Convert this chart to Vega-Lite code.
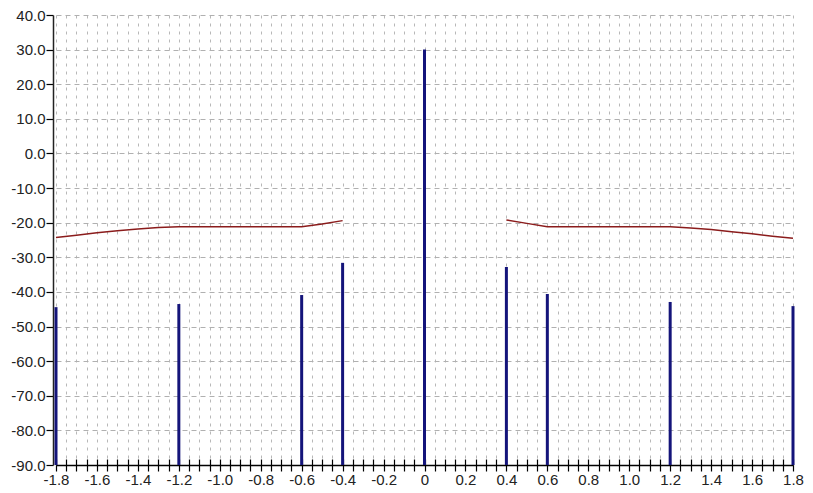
{
  "$schema": "https://vega.github.io/schema/vega-lite/v6.json",
  "width": 737,
  "height": 450,
  "autosize": {"type": "none"},
  "padding": {"left": 56, "top": 15, "right": 20, "bottom": 28},
  "background": "white",
  "config": {
    "view": {"stroke": null},
    "font": "Liberation Sans",
    "axis": {
      "labelOverlap": false,
      "labelFlush": false,
      "labelBound": false,
      "labelSeparation": 0,
      "labelFontSize": 15,
      "labelColor": "#222222",
      "labelPadding": 1,
      "tickColor": "#000000",
      "tickWidth": 1.2,
      "title": null
    }
  },
  "datasets": {
    "stems": [
      {"x": -1.8, "value": -44.4},
      {"x": -1.2, "value": -43.5},
      {"x": -0.6, "value": -40.9},
      {"x": -0.4, "value": -31.6},
      {"x": 0, "value": 30.0},
      {"x": 0.4, "value": -32.8},
      {"x": 0.6, "value": -40.6},
      {"x": 1.2, "value": -42.9},
      {"x": 1.8, "value": -44.1}
    ],
    "curve": [
      {"side": "L", "x": -1.8, "y": -24.3},
      {"side": "L", "x": -1.7, "y": -23.6},
      {"side": "L", "x": -1.6, "y": -22.9},
      {"side": "L", "x": -1.5, "y": -22.3},
      {"side": "L", "x": -1.4, "y": -21.8},
      {"side": "L", "x": -1.3, "y": -21.4},
      {"side": "L", "x": -1.2, "y": -21.2},
      {"side": "L", "x": -1.0, "y": -21.2},
      {"side": "L", "x": -0.8, "y": -21.2},
      {"side": "L", "x": -0.6, "y": -21.2},
      {"side": "L", "x": -0.5, "y": -20.4},
      {"side": "L", "x": -0.4, "y": -19.4},
      {"side": "R", "x": 0.4, "y": -19.2},
      {"side": "R", "x": 0.5, "y": -20.2},
      {"side": "R", "x": 0.6, "y": -21.2},
      {"side": "R", "x": 0.8, "y": -21.2},
      {"side": "R", "x": 1.0, "y": -21.2},
      {"side": "R", "x": 1.2, "y": -21.2},
      {"side": "R", "x": 1.3, "y": -21.5},
      {"side": "R", "x": 1.4, "y": -22.0},
      {"side": "R", "x": 1.5, "y": -22.6},
      {"side": "R", "x": 1.6, "y": -23.2},
      {"side": "R", "x": 1.7, "y": -23.9},
      {"side": "R", "x": 1.8, "y": -24.5}
    ]
  },
  "resolve": {"axis": {"x": "independent", "y": "independent"}},
  "layer": [
    {
      "data": {"name": "stems"},
      "mark": {"type": "rule", "color": "#14147a", "strokeWidth": 3},
      "encoding": {
        "x": {
          "field": "x",
          "type": "quantitative",
          "scale": {"domain": [-1.8, 1.8], "nice": false, "zero": false},
          "axis": {
            "orient": "bottom",
            "values": [-1.8,-1.75,-1.7,-1.65,-1.6,-1.55,-1.5,-1.45,-1.4,-1.35,-1.3,-1.25,-1.2,-1.15,-1.1,-1.05,-1,-0.95,-0.9,-0.85,-0.8,-0.75,-0.7,-0.65,-0.6,-0.55,-0.5,-0.45,-0.4,-0.35,-0.3,-0.25,-0.2,-0.15,-0.1,-0.05,0,0.05,0.1,0.15,0.2,0.25,0.3,0.35,0.4,0.45,0.5,0.55,0.6,0.65,0.7,0.75,0.8,0.85,0.9,0.95,1,1.05,1.1,1.15,1.2,1.25,1.3,1.35,1.4,1.45,1.5,1.55,1.6,1.65,1.7,1.75,1.8],
            "labelExpr": "round(datum.value*100) % 20 == 0 ? (datum.value == 0 ? '0' : replace(format(datum.value, '.1f'), '−', '-')) : ''",
            "tickSize": 6,
            "domainColor": "#000000",
            "domainWidth": 1.5,
            "grid": true,
            "gridColor": "#b8b8b8",
            "gridDash": [3, 5],
            "gridWidth": 1
          }
        },
        "y": {
          "field": "value",
          "type": "quantitative",
          "scale": {"domain": [-90, 40], "nice": false, "zero": false},
          "axis": {
            "orient": "left",
            "values": [-90, -80, -70, -60, -50, -40, -30, -20, -10, 0, 10, 20, 30, 40],
            "labelExpr": "replace(format(datum.value, '.1f'), '−', '-')",
            "labelOverlap": false,
            "tickSize": 7,
            "domainColor": "#222222",
            "domainWidth": 1.5,
            "offset": 3,
            "grid": true,
            "gridColor": "#b0b0b0",
            "gridDash": [5, 4],
            "gridWidth": 1
          }
        },
        "y2": {"datum": -90}
      }
    },
    {
      "data": {"name": "curve"},
      "mark": {"type": "line", "color": "#8b1c1c", "strokeWidth": 1.5},
      "encoding": {
        "x": {
          "field": "x",
          "type": "quantitative",
          "scale": {"domain": [-1.8, 1.8], "nice": false, "zero": false},
          "axis": {
            "orient": "bottom",
            "values": [-1.8,-1.75,-1.7,-1.65,-1.6,-1.55,-1.5,-1.45,-1.4,-1.35,-1.3,-1.25,-1.2,-1.15,-1.1,-1.05,-1,-0.95,-0.9,-0.85,-0.8,-0.75,-0.7,-0.65,-0.6,-0.55,-0.5,-0.45,-0.4,-0.35,-0.3,-0.25,-0.2,-0.15,-0.1,-0.05,0,0.05,0.1,0.15,0.2,0.25,0.3,0.35,0.4,0.45,0.5,0.55,0.6,0.65,0.7,0.75,0.8,0.85,0.9,0.95,1,1.05,1.1,1.15,1.2,1.25,1.3,1.35,1.4,1.45,1.5,1.55,1.6,1.65,1.7,1.75,1.8],
            "labels": false,
            "domain": false,
            "grid": false,
            "tickSize": -6
          }
        },
        "y": {"field": "y", "type": "quantitative", "axis": null},
        "detail": {"field": "side"}
      }
    }
  ]
}
